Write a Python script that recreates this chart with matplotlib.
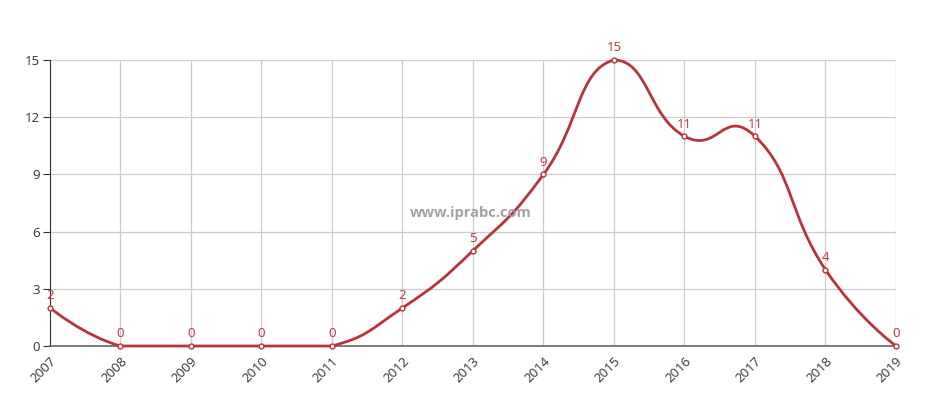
import numpy as np
import matplotlib
matplotlib.use("Agg")
import matplotlib.pyplot as plt
from matplotlib.path import Path
from matplotlib.patches import PathPatch

years = ["2007", "2008", "2009", "2010", "2011", "2012", "2013",
         "2014", "2015", "2016", "2017", "2018", "2019"]
counts = [2, 0, 0, 0, 0, 2, 5, 9, 15, 11, 11, 4, 0]
yticks = [0, 3, 6, 9, 12, 15]

RED = "#b8333b"

plt.rcParams['font.family'] = ['Open Sans', 'DejaVu Sans']
fig = plt.figure(figsize=(9.43, 4.0), dpi=100)
ax = fig.add_axes([50/943, 54/400, 846/943, 286/400])
x = np.arange(len(years))
ax.set_xlim(0, len(years) - 1)
ax.set_ylim(0, 15)

# echarts-like smoothing (bezier control points, clamped to data bbox)
fig.canvas.draw()
pts = ax.transData.transform(np.column_stack([x, counts]))
origin = pts[0].copy()
yscale = 0.35
work = (pts - origin) * np.array([1.0, yscale])
mn = work.min(axis=0)
mx = work.max(axis=0)
smooth = 0.5
n = len(work)
cps = []
for i in range(n):
    p = work[i]
    if i == 0 or i == n - 1:
        cps.append((p.copy(), p.copy()))
        continue
    prev, nxt = work[i - 1], work[i + 1]
    v = nxt - prev
    d0 = np.hypot(*(p - prev))
    d1 = np.hypot(*(p - nxt))
    s = d0 + d1
    c0 = np.clip(p - v * smooth * d0 / s, mn, mx)
    c1 = np.clip(p + v * smooth * d1 / s, mn, mx)
    cps.append((c0, c1))
verts = [work[0]]
codes = [Path.MOVETO]
for i in range(n - 1):
    verts += [cps[i][1], cps[i + 1][0], work[i + 1]]
    codes += [Path.CURVE4] * 3
verts = np.array(verts) / np.array([1.0, yscale]) + origin
dverts = ax.transData.inverted().transform(verts)
ax.add_patch(PathPatch(Path(dverts, codes), fill=False, edgecolor=RED, lw=2,
                       zorder=3, clip_on=False, capstyle='round', joinstyle='round'))
ax.plot(x, counts, linestyle='none', marker='o', ms=3.5, mfc='white', mec=RED,
        mew=1, zorder=4, clip_on=False)
for xi, c in zip(x, counts):
    ax.annotate(str(c), (xi, c), xytext=(0, 4), textcoords='offset points',
                ha='center', va='bottom', color=RED, fontsize=9.5, zorder=5)

ax.set_yticks(yticks)
ax.set_xticks(x)
ax.set_xticklabels(years, rotation=45, ha='right', rotation_mode='anchor')
ax.grid(True, color='#cccccc', lw=0.9)
ax.set_axisbelow(True)
for sp in ['top', 'right']:
    ax.spines[sp].set_visible(False)
ax.spines['left'].set_color('#333333')
ax.spines['bottom'].set_color('#666666')
ax.spines['bottom'].set_linewidth(1.2)
ax.tick_params(axis='y', colors='#333333', labelsize=9.5, length=5, width=0.8, pad=2)
ax.tick_params(axis='x', colors='#333333', labelsize=9.5, length=0, pad=6)

fig.text(471/943, 1 - 213/400, "www.iprabc.com", ha='center', va='center',
         fontsize=10.5, fontweight='bold', color='#999999', alpha=0.9)

fig.savefig("out.png", dpi=100)
